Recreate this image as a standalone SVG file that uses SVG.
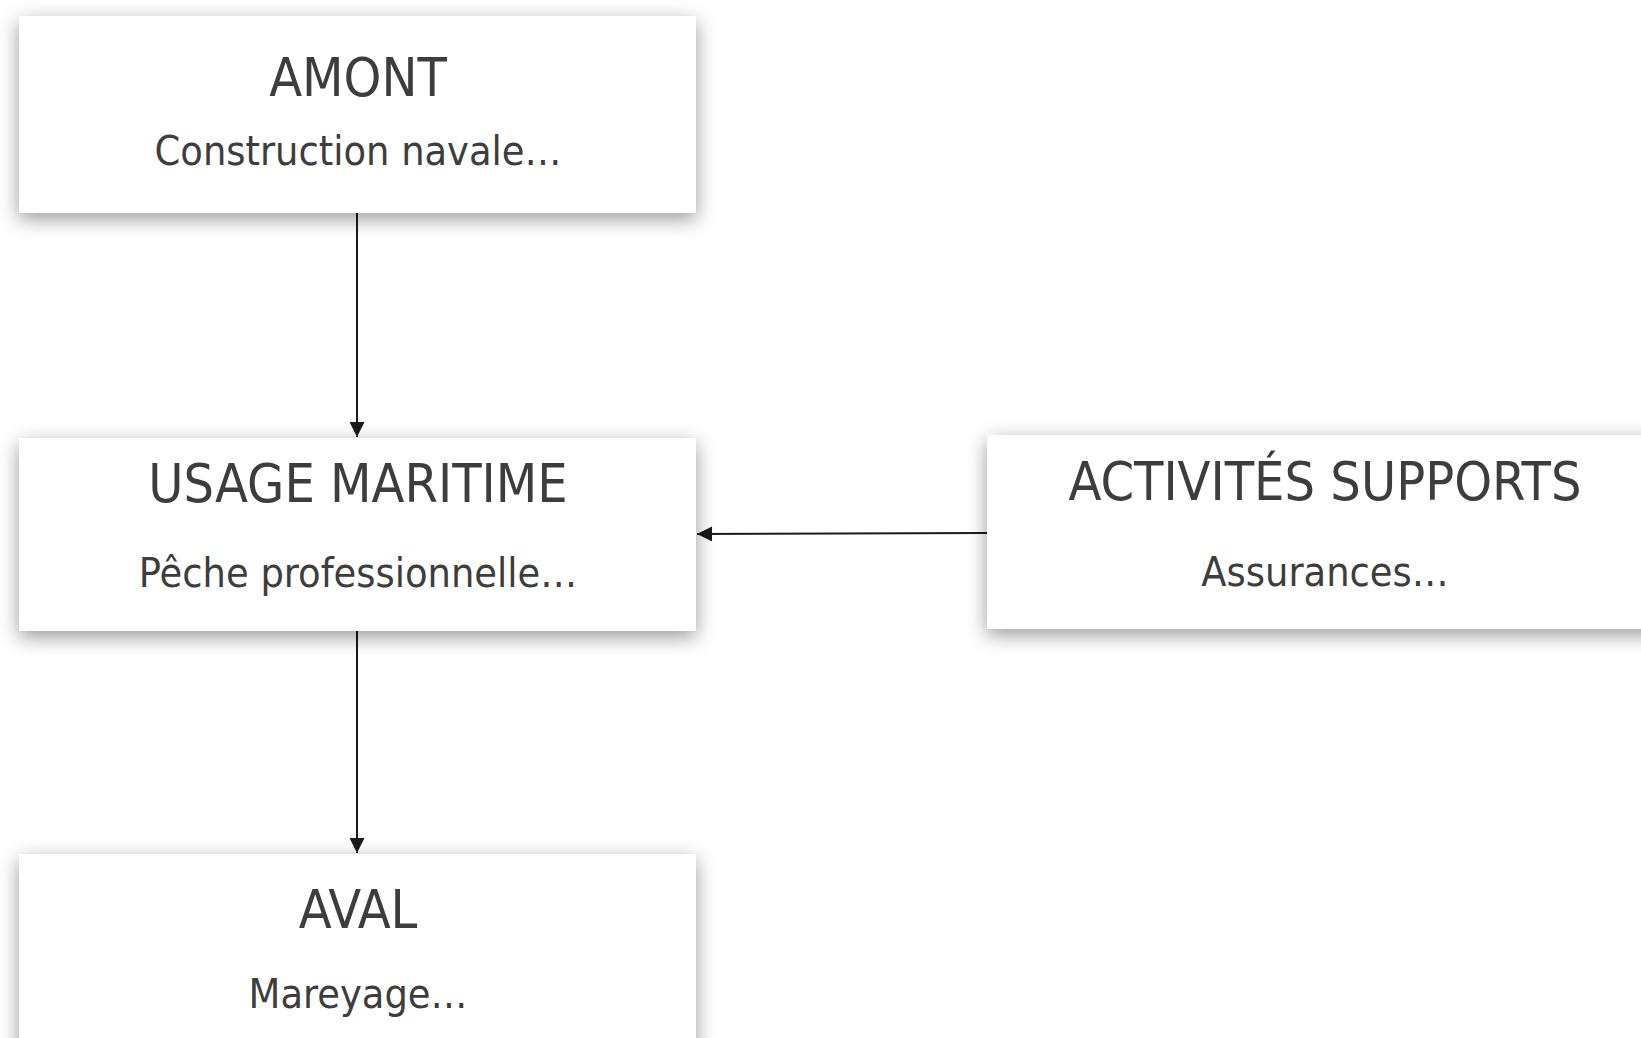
<svg xmlns="http://www.w3.org/2000/svg" width="1641" height="1038" viewBox="0 0 1641 1038">
  <style>
    .box { fill: #ffffff; filter: url(#shadow); }
    .title { font-family: "DejaVu Sans Condensed", "DejaVu Sans", sans-serif; font-stretch: condensed; font-size: 53.5px; fill: #3d3d3d; text-anchor: middle; }
    .sub { font-family: "DejaVu Sans Condensed", "DejaVu Sans", sans-serif; font-stretch: condensed; font-size: 41px; fill: #3d3d3d; text-anchor: middle; }
    .edge { stroke: #1a1a1a; stroke-width: 2; fill: none; marker-end: url(#arrow); }
  </style>
  <defs>
    <filter id="shadow" x="-10%" y="-25%" width="120%" height="160%">
      <feDropShadow dx="0" dy="6" stdDeviation="10" flood-color="#000000" flood-opacity="0.4"/>
    </filter>
    <marker id="arrow" viewBox="0 0 10 10" refX="10" refY="5" markerWidth="8" markerHeight="7.5" markerUnits="strokeWidth" orient="auto">
      <path d="M0,0 L10,5 L0,10 z" fill="#1a1a1a"/>
    </marker>
  </defs>
  <rect width="1641" height="1038" fill="#ffffff"/>

  <g id="connectors">
    <line class="edge" x1="357" y1="213" x2="357" y2="437"/>
    <line class="edge" x1="357" y1="631" x2="357" y2="853"/>
    <line class="edge" x1="987" y1="533" x2="697" y2="534"/>
  </g>

  <g id="amont">
    <rect class="box" x="19" y="16" width="677" height="197"/>
    <text class="title" x="358" y="96">AMONT</text>
    <text class="sub" x="358" y="165">Construction navale…</text>
  </g>

  <g id="usage-maritime">
    <rect class="box" x="19" y="438" width="677" height="193"/>
    <text class="title" x="358" y="502">USAGE MARITIME</text>
    <text class="sub" x="358" y="587">Pêche professionnelle…</text>
  </g>

  <g id="activites-supports">
    <rect class="box" x="987" y="435" width="677" height="194"/>
    <text class="title" x="1325" y="500">ACTIVITÉS SUPPORTS</text>
    <text class="sub" x="1325" y="586">Assurances…</text>
  </g>

  <g id="aval">
    <rect class="box" x="19" y="854" width="677" height="200"/>
    <text class="title" x="358" y="928">AVAL</text>
    <text class="sub" x="358" y="1008">Mareyage…</text>
  </g>
</svg>
